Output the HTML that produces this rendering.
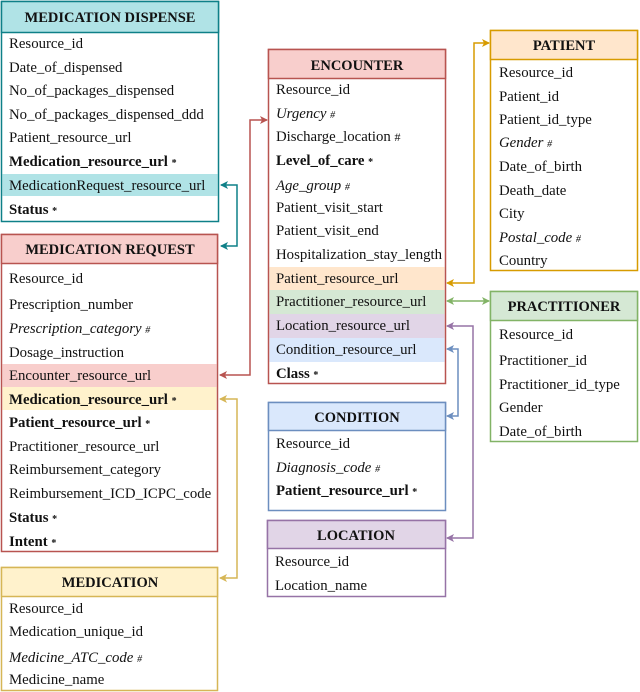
<!DOCTYPE html>
<html><head><meta charset="utf-8"><style>
html,body{margin:0;padding:0;background:#fff;}
svg{display:block;}
text{font-family:"Liberation Serif","Times New Roman",serif;font-size:14.8px;fill:#111;}
.h{font-weight:bold;font-size:14.5px;}
.b{font-weight:bold;}
.i{font-style:italic;}
.s{font-size:10px;}
</style></head><body>
<svg width="640" height="692" viewBox="0 0 640 692" xmlns="http://www.w3.org/2000/svg">
<defs>
<marker id="aT" markerWidth="8" markerHeight="8" refX="7" refY="4" orient="auto" markerUnits="userSpaceOnUse"><path d="M0,0 L8,4 L0,8 L2,4z" fill="#0e8088"/></marker>
<marker id="aR" markerWidth="8" markerHeight="8" refX="7" refY="4" orient="auto" markerUnits="userSpaceOnUse"><path d="M0,0 L8,4 L0,8 L2,4z" fill="#b85450"/></marker>
<marker id="aY" markerWidth="8" markerHeight="8" refX="7" refY="4" orient="auto" markerUnits="userSpaceOnUse"><path d="M0,0 L8,4 L0,8 L2,4z" fill="#d6b656"/></marker>
<marker id="aO" markerWidth="8" markerHeight="8" refX="7" refY="4" orient="auto" markerUnits="userSpaceOnUse"><path d="M0,0 L8,4 L0,8 L2,4z" fill="#d79b00"/></marker>
<marker id="aG" markerWidth="8" markerHeight="8" refX="7" refY="4" orient="auto" markerUnits="userSpaceOnUse"><path d="M0,0 L8,4 L0,8 L2,4z" fill="#82b366"/></marker>
<marker id="aP" markerWidth="8" markerHeight="8" refX="7" refY="4" orient="auto" markerUnits="userSpaceOnUse"><path d="M0,0 L8,4 L0,8 L2,4z" fill="#9673a6"/></marker>
<marker id="aB" markerWidth="8" markerHeight="8" refX="7" refY="4" orient="auto" markerUnits="userSpaceOnUse"><path d="M0,0 L8,4 L0,8 L2,4z" fill="#6c8ebf"/></marker>
<marker id="sT" markerWidth="8" markerHeight="8" refX="1" refY="4" orient="auto" markerUnits="userSpaceOnUse"><path d="M8,0 L0,4 L8,8 L6,4z" fill="#0e8088"/></marker>
<marker id="sR" markerWidth="8" markerHeight="8" refX="1" refY="4" orient="auto" markerUnits="userSpaceOnUse"><path d="M8,0 L0,4 L8,8 L6,4z" fill="#b85450"/></marker>
<marker id="sY" markerWidth="8" markerHeight="8" refX="1" refY="4" orient="auto" markerUnits="userSpaceOnUse"><path d="M8,0 L0,4 L8,8 L6,4z" fill="#d6b656"/></marker>
<marker id="sO" markerWidth="8" markerHeight="8" refX="1" refY="4" orient="auto" markerUnits="userSpaceOnUse"><path d="M8,0 L0,4 L8,8 L6,4z" fill="#d79b00"/></marker>
<marker id="sG" markerWidth="8" markerHeight="8" refX="1" refY="4" orient="auto" markerUnits="userSpaceOnUse"><path d="M8,0 L0,4 L8,8 L6,4z" fill="#82b366"/></marker>
<marker id="sP" markerWidth="8" markerHeight="8" refX="1" refY="4" orient="auto" markerUnits="userSpaceOnUse"><path d="M8,0 L0,4 L8,8 L6,4z" fill="#9673a6"/></marker>
<marker id="sB" markerWidth="8" markerHeight="8" refX="1" refY="4" orient="auto" markerUnits="userSpaceOnUse"><path d="M8,0 L0,4 L8,8 L6,4z" fill="#6c8ebf"/></marker>
</defs>

<rect x="1.5" y="1.5" width="217" height="220" fill="#fff" stroke="#0e8088" stroke-width="1.5"/>
<rect x="1.5" y="1.5" width="217" height="31" fill="#b0e3e6" stroke="#0e8088" stroke-width="1.5"/>
<rect x="2.5" y="174" width="215" height="22" fill="#b0e3e6"/>
<text x="110" y="22" text-anchor="middle" class="h">MEDICATION DISPENSE</text>
<text x="9" y="48">Resource_id</text>
<text x="9" y="72">Date_of_dispensed</text>
<text x="9" y="95">No_of_packages_dispensed</text>
<text x="9" y="119">No_of_packages_dispensed_ddd</text>
<text x="9" y="142">Patient_resource_url</text>
<text x="9" y="166" class="b">Medication_resource_url <tspan class="s">*</tspan></text>
<text x="9" y="190">MedicationRequest_resource_url</text>
<text x="9" y="214" class="b">Status <tspan class="s">*</tspan></text>

<rect x="1.5" y="234.5" width="216" height="317" fill="#fff" stroke="#b85450" stroke-width="1.5"/>
<rect x="1.5" y="234.5" width="216" height="29" fill="#f8cecc" stroke="#b85450" stroke-width="1.5"/>
<rect x="2.5" y="364" width="214" height="23" fill="#f8cecc"/>
<rect x="2.5" y="387" width="214" height="23" fill="#fff2cc"/>
<text x="110" y="254" text-anchor="middle" class="h">MEDICATION REQUEST</text>
<text x="9" y="283">Resource_id</text>
<text x="9" y="309">Prescription_number</text>
<text x="9" y="333" class="i">Prescription_category <tspan class="s">#</tspan></text>
<text x="9" y="357">Dosage_instruction</text>
<text x="9" y="380">Encounter_resource_url</text>
<text x="9" y="404" class="b">Medication_resource_url <tspan class="s">*</tspan></text>
<text x="9" y="427" class="b">Patient_resource_url <tspan class="s">*</tspan></text>
<text x="9" y="451">Practitioner_resource_url</text>
<text x="9" y="474">Reimbursement_category</text>
<text x="9" y="498">Reimbursement_ICD_ICPC_code</text>
<text x="9" y="522" class="b">Status <tspan class="s">*</tspan></text>
<text x="9" y="546" class="b">Intent <tspan class="s">*</tspan></text>

<rect x="1.5" y="567.5" width="216" height="123" fill="#fff" stroke="#d6b656" stroke-width="1.5"/>
<rect x="1.5" y="567.5" width="216" height="29" fill="#fff2cc" stroke="#d6b656" stroke-width="1.5"/>
<text x="110" y="587" text-anchor="middle" class="h">MEDICATION</text>
<text x="9" y="613">Resource_id</text>
<text x="9" y="636">Medication_unique_id</text>
<text x="9" y="662" class="i">Medicine_ATC_code <tspan class="s">#</tspan></text>
<text x="9" y="684">Medicine_name</text>

<rect x="268.5" y="49.5" width="177" height="334" fill="#fff" stroke="#b85450" stroke-width="1.5"/>
<rect x="268.5" y="49.5" width="177" height="29" fill="#f8cecc" stroke="#b85450" stroke-width="1.5"/>
<rect x="269.5" y="267" width="175" height="23" fill="#ffe6cc"/>
<rect x="269.5" y="290" width="175" height="24" fill="#d5e8d4"/>
<rect x="269.5" y="314" width="175" height="24" fill="#e1d5e7"/>
<rect x="269.5" y="338" width="175" height="24" fill="#dae8fc"/>
<text x="357" y="70" text-anchor="middle" class="h">ENCOUNTER</text>
<text x="276" y="94">Resource_id</text>
<text x="276" y="118" class="i">Urgency <tspan class="s">#</tspan></text>
<text x="276" y="141">Discharge_location <tspan font-size="12">#</tspan></text>
<text x="276" y="165" class="b">Level_of_care <tspan class="s">*</tspan></text>
<text x="276" y="190" class="i">Age_group <tspan class="s">#</tspan></text>
<text x="276" y="212">Patient_visit_start</text>
<text x="276" y="235">Patient_visit_end</text>
<text x="276" y="259">Hospitalization_stay_length</text>
<text x="276" y="283">Patient_resource_url</text>
<text x="276" y="306">Practitioner_resource_url</text>
<text x="276" y="330">Location_resource_url</text>
<text x="276" y="354">Condition_resource_url</text>
<text x="276" y="378" class="b">Class <tspan class="s">*</tspan></text>

<rect x="490.5" y="30.5" width="147" height="240" fill="#fff" stroke="#d79b00" stroke-width="1.5"/>
<rect x="490.5" y="30.5" width="147" height="29" fill="#ffe6cc" stroke="#d79b00" stroke-width="1.5"/>
<text x="564" y="50" text-anchor="middle" class="h">PATIENT</text>
<text x="499" y="77">Resource_id</text>
<text x="499" y="101">Patient_id</text>
<text x="499" y="124">Patient_id_type</text>
<text x="499" y="147" class="i">Gender <tspan class="s">#</tspan></text>
<text x="499" y="171">Date_of_birth</text>
<text x="499" y="195">Death_date</text>
<text x="499" y="218">City</text>
<text x="499" y="242" class="i">Postal_code <tspan class="s">#</tspan></text>
<text x="499" y="265">Country</text>

<rect x="490.5" y="291.5" width="147" height="150" fill="#fff" stroke="#82b366" stroke-width="1.5"/>
<rect x="490.5" y="291.5" width="147" height="29" fill="#d5e8d4" stroke="#82b366" stroke-width="1.5"/>
<text x="564" y="311" text-anchor="middle" class="h">PRACTITIONER</text>
<text x="499" y="339">Resource_id</text>
<text x="499" y="365">Practitioner_id</text>
<text x="499" y="389">Practitioner_id_type</text>
<text x="499" y="412">Gender</text>
<text x="499" y="436">Date_of_birth</text>

<rect x="268.5" y="402.5" width="177" height="108" fill="#fff" stroke="#6c8ebf" stroke-width="1.5"/>
<rect x="268.5" y="402.5" width="177" height="28" fill="#dae8fc" stroke="#6c8ebf" stroke-width="1.5"/>
<text x="357" y="422" text-anchor="middle" class="h">CONDITION</text>
<text x="276" y="448">Resource_id</text>
<text x="276" y="472" class="i">Diagnosis_code <tspan class="s">#</tspan></text>
<text x="276" y="495" class="b">Patient_resource_url <tspan class="s">*</tspan></text>

<rect x="267.5" y="520.5" width="178" height="76" fill="#fff" stroke="#9673a6" stroke-width="1.5"/>
<rect x="267.5" y="520.5" width="178" height="28" fill="#e1d5e7" stroke="#9673a6" stroke-width="1.5"/>
<text x="356" y="540" text-anchor="middle" class="h">LOCATION</text>
<text x="275" y="566">Resource_id</text>
<text x="275" y="590">Location_name</text>

<g fill="none" stroke-width="1.5">
<path d="M221,185 H237 V246 H221" stroke="#0e8088" marker-start="url(#sT)" marker-end="url(#aT)"/>
<path d="M220,375 H250 V120 H267" stroke="#b85450" marker-start="url(#sR)" marker-end="url(#aR)"/>
<path d="M220,399 H237 V578 H220" stroke="#d6b656" marker-start="url(#sY)" marker-end="url(#aY)"/>
<path d="M447,283 H474 V43 H489" stroke="#d79b00" marker-start="url(#sO)" marker-end="url(#aO)"/>
<path d="M447,301 H489" stroke="#82b366" marker-start="url(#sG)" marker-end="url(#aG)"/>
<path d="M447,326 H473 V538 H447" stroke="#9673a6" marker-start="url(#sP)" marker-end="url(#aP)"/>
<path d="M447,349 H458 V416 H447" stroke="#6c8ebf" marker-start="url(#sB)" marker-end="url(#aB)"/>
</g>
</svg>
</body></html>
